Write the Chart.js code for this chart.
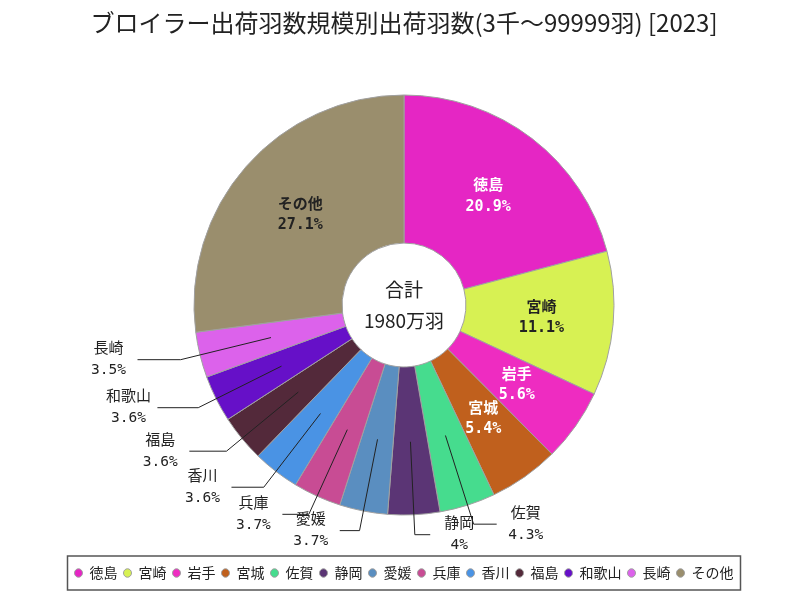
<!DOCTYPE html>
<html>
<head>
<meta charset="utf-8">
<script src="https://cdn.jsdelivr.net/npm/chart.js@4"></script>
<style>
  body { margin: 0; background: #fff; }
  #wrap { width: 800px; height: 600px; }
</style>
</head>
<body>
<div id="wrap"><canvas id="chart"></canvas></div>
<script>
// data (share of shipments, %)
const prefectures = ['徳島', '宮崎', '岩手', '宮城', '佐賀', '静岡', '愛媛', '兵庫', '香川', '福島', '和歌山', '長崎', 'その他'];
const shares = [20.9, 11.1, 5.6, 5.4, 4.3, 4, 3.7, 3.7, 3.6, 3.6, 3.6, 3.5, 27.1];
const sliceColors = ['#e526c4', '#d7f153', '#ee2cc1', '#c0601d', '#46dc8e', '#5b3575', '#5a8ec0', '#c84c94', '#4a93e4', '#53293a', '#6610c8', '#dc62eb', '#9a8e6d'];
const totalText = ['合計', '1980万羽'];
const titleText = 'ブロイラー出荷羽数規模別出荷羽数(3千～99999羽) [2023]';

const JP = "'Noto Sans CJK JP', sans-serif";
const MONO = "'DejaVu Sans Mono', 'Noto Sans CJK JP', monospace";

Chart.defaults.font.family = JP;
Chart.defaults.color = '#222';

function isDark(hex){
  const r = parseInt(hex.substr(1,2),16), g = parseInt(hex.substr(3,2),16), b = parseInt(hex.substr(5,2),16);
  return 0.299*r + 0.587*g + 0.114*b < 130;
}

const labelPlugin = {
  id: 'sliceLabels',
  afterDatasetsDraw(chart){
    const ctx = chart.ctx;
    const meta = chart.getDatasetMeta(0);
    ctx.save();
    ctx.textAlign = 'center';
    ctx.textBaseline = 'middle';
    meta.data.forEach((arc, i) => {
      const a = (arc.startAngle + arc.endAngle) / 2;
      const cx = arc.x, cy = arc.y;
      const dx = Math.cos(a), dy = Math.sin(a);
      const pct = shares[i] + '%';
      if (shares[i] >= 5) {
        const r = (arc.innerRadius + arc.outerRadius) / 2 + 2;
        const x = cx + dx*r, y = cy + dy*r;
        ctx.fillStyle = isDark(sliceColors[i]) ? '#fff' : '#222';
        ctx.font = 'bold 15px ' + JP;
        ctx.fillText(prefectures[i], x, y - 11);
        ctx.font = 'bold 15px ' + MONO;
        ctx.fillText(pct, x, y + 11);
      } else {
        const r0 = arc.outerRadius * 0.652, r1 = arc.outerRadius * 1.095;
        const side = dx < 0 ? -1 : 1;
        const x0 = cx + dx*r0, y0 = cy + dy*r0;
        const x1 = cx + dx*r1, y1 = cy + dy*r1;
        const x2 = x1 + side * (14 + 30*Math.abs(dx));
        ctx.strokeStyle = '#222';
        ctx.lineWidth = 1;
        ctx.beginPath();
        ctx.moveTo(x0, y0);
        ctx.lineTo(x1, y1);
        ctx.lineTo(x2, y1);
        ctx.stroke();
        const tx = x2 + side*29;
        ctx.fillStyle = '#222';
        ctx.font = '15px ' + JP;
        ctx.fillText(prefectures[i], tx, y1 - 12);
        ctx.font = '14.5px ' + MONO;
        ctx.fillText(pct, tx, y1 + 11);
      }
    });
    // total in the hole
    const c = meta.data[0];
    ctx.fillStyle = '#222';
    ctx.font = '19px ' + JP;
    ctx.fillText(totalText[0], c.x, c.y - 15);
    ctx.fillText(totalText[1], c.x, c.y + 16);
    ctx.restore();
  },
  afterDraw(chart){
    const lg = chart.legend;
    if (!lg || !lg.legendHitBoxes.length) return;
    const boxes = lg.legendHitBoxes;
    const left = Math.min(...boxes.map(b => b.left)) - 7;
    const right = Math.max(...boxes.map(b => b.left + b.width)) + 7;
    const mid = boxes[0].top + boxes[0].height / 2;
    const ctx = chart.ctx;
    ctx.save();
    ctx.strokeStyle = '#555';
    ctx.lineWidth = 1.5;
    ctx.strokeRect(left, mid - 17, right - left, 34);
    ctx.restore();
  }
};

new Chart(document.getElementById('chart'), {
  type: 'doughnut',
  data: {
    labels: prefectures,
    datasets: [{
      data: shares,
      backgroundColor: sliceColors,
      borderColor: '#a0a0a0',
      borderWidth: 1
    }]
  },
  options: {
    responsive: true,
    maintainAspectRatio: false,
    animation: false,
    radius: 210,
    cutout: '29.5%',
    layout: { padding: { left: 8, bottom: 10 } },
    plugins: {
      title: {
        display: true,
        text: titleText,
        color: '#222',
        font: { size: 24, weight: 'normal' },
        padding: { top: 8, bottom: 13.2 }
      },
      legend: {
        position: 'bottom',
        labels: {
          usePointStyle: true,
          pointStyle: 'circle',
          boxHeight: 6,
          pointStyleWidth: 8,
          padding: 6,
          color: '#222',
          font: { size: 14 }
        }
      },
      tooltip: { enabled: false }
    }
  },
  plugins: [labelPlugin]
});
</script>
</body>
</html>
